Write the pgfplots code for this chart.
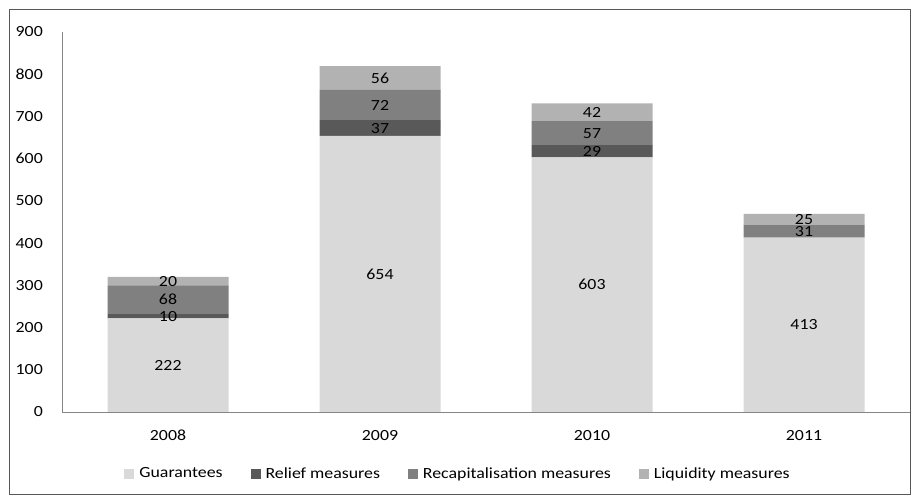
\documentclass[border=0pt]{standalone}
\usepackage{pgfplots}
\usepackage{pgfplotstable}
\pgfplotsset{compat=1.18}
\usepackage{fontspec}
\setmainfont{Carlito}[FakeStretch=1.15]
\definecolor{cg}{HTML}{D9D9D9}
\definecolor{cr}{HTML}{595959}
\definecolor{cc}{HTML}{808080}
\definecolor{cl}{HTML}{B2B2B2}
\definecolor{axc}{HTML}{868686}
\pgfplotsset{/pgf/number format/assume math mode=true}
\pgfplotstableread{
x g r c l
0 222 10 68 20
1 654 37 72 56
2 603 29 57 42
3 413 0 31 25
}\data
\begin{document}
\fontsize{15.5bp}{18bp}\selectfont
\begin{tikzpicture}[x=1bp,y=1bp]
\useasboundingbox (0,0) rectangle (912,496);
\draw[black!65, line width=0.9bp] (9,2) rectangle (910,487);
\begin{axis}[
  at={(62bp,84bp)}, anchor=south west, scale only axis,
  width=848bp, height=380bp,
  xmin=-0.5, xmax=3.5, ymin=0, ymax=900,
  ybar stacked, bar width=121bp,
  axis x line*=bottom, axis y line*=left,
  axis line style={axc, line width=0.8bp},
  xtick={0,1,2,3}, xticklabels={2008,2009,2010,2011},
  ytick={0,100,...,900},
  major tick length=0pt, tick style={draw=none},
  yticklabel style={anchor=east, inner sep=0pt, xshift=-19bp},
  xticklabel style={anchor=north, inner sep=0pt, yshift=-18bp},
  legend columns=4,
  legend style={draw=none, at={(0.467,0)}, anchor=center, yshift=-62bp,
    /tikz/every even column/.append style={column sep=26bp},
    /tikz/every odd column/.append style={column sep=3bp}},
  legend image code/.code={\fill[#1,draw=none] (0bp,-5bp) rectangle (10bp,5bp);},
]
\addplot[fill=cg, draw=none] table[x=x, y=g] {\data};
\addlegendentry{Guarantees}
\addplot[fill=cr, draw=none] table[x=x, y=r] {\data};
\addlegendentry{Relief measures}
\addplot[fill=cc, draw=none] table[x=x, y=c] {\data};
\addlegendentry{Recapitalisation measures}
\addplot[fill=cl, draw=none] table[x=x, y=l] {\data};
\addlegendentry{Liquidity measures}
\end{axis}
\begin{axis}[
  at={(62bp,84bp)}, anchor=south west, scale only axis,
  width=848bp, height=380bp,
  xmin=-0.5, xmax=3.5, ymin=0, ymax=900,
  hide axis,
  nodes near coords,
  point meta=explicit,
  nodes near coords style={anchor=center, inner sep=0pt, text=black},
]
\addplot[draw=none, mark=none] table[x=x, y expr=\thisrow{g}/2, meta=g] {\data};
\addplot[draw=none, mark=none, skip coords between index={3}{4}] table[x=x, y expr=\thisrow{g}+\thisrow{r}/2, meta=r] {\data};
\addplot[draw=none, mark=none] table[x=x, y expr=\thisrow{g}+\thisrow{r}+\thisrow{c}/2, meta=c] {\data};
\addplot[draw=none, mark=none] table[x=x, y expr=\thisrow{g}+\thisrow{r}+\thisrow{c}+\thisrow{l}/2, meta=l] {\data};
\end{axis}
\end{tikzpicture}
\end{document}
